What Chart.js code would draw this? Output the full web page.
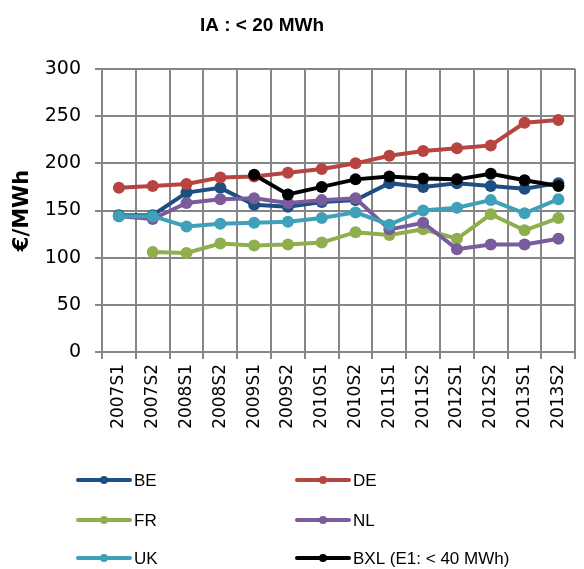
<!DOCTYPE html>
<html>
<head>
<meta charset="utf-8">
<script src="https://cdn.jsdelivr.net/npm/chart.js@4.4.1/dist/chart.umd.min.js"></script>
<style>
  html, body { margin: 0; padding: 0; background: #fff; }
  #wrap { position: relative; width: 584px; height: 569px; }
</style>
</head>
<body>
<div id="wrap"><canvas id="chart" width="584" height="569"></canvas></div>
<script>
// semesters on the category axis
const periods = ['2007S1', '2007S2', '2008S1', '2008S2', '2009S1', '2009S2', '2010S1',
  '2010S2', '2011S1', '2011S2', '2012S1', '2012S2', '2013S1', '2013S2'];

// €/MWh per country
const beValues = [145, 145, 169, 174, 156, 154, 159, 161, 179, 175, 179, 176, 173, 179];
const deValues = [174, 176, 178, 185, 186, 190, 194, 200, 208, 213, 216, 219, 243, 246];
const frValues = [null, 106, 105, 115, 113, 114, 116, 127, 124, 130, 120, 146, 129, 142];
const nlValues = [144, 141, 158, 162, 163, 158, 161, 163, 130, 137, 109, 114, 114, 120];
const ukValues = [144, 144, 133, 136, 137, 138, 142, 148, 135, 150, 153, 161, 147, 162];
const bxlValues = [null, null, null, null, 188, 167, 175, 183, 186, 184, 183, 189, 182, 176];

const yTicks = [0, 50, 100, 150, 200, 250, 300];

const GRID = '#868686';

function series(label, data, color, order) {
  return {
    label, data, order,
    borderColor: color,
    backgroundColor: color,
    pointBackgroundColor: color,
    pointBorderColor: color,
    borderWidth: 4,
    pointRadius: 6,
    pointBorderWidth: 0,
    tension: 0,
    spanGaps: false,
  };
}

/* ── title drawn by hand: Excel put it left of centre ───────── */
const titlePlugin = {
  id: 'xlTitle',
  afterDraw(chart) {
    const ctx = chart.ctx;
    ctx.save();
    ctx.fillStyle = '#000';
    ctx.font = 'bold 19px "Liberation Sans", Arial, sans-serif';
    ctx.textAlign = 'center';
    ctx.textBaseline = 'middle';
    ctx.fillText('IA : < 20 MWh', 262, 26);
    ctx.restore();
  }
};

/* ── legend in two columns, line + marker like Excel ────────── */
const legendPlugin = {
  id: 'xlLegend',
  afterDraw(chart) {
    const ctx = chart.ctx;
    const cols = [78, 297];
    const rows = [480, 520, 558];
    ctx.save();
    ctx.font = '17px "Liberation Sans", Arial, sans-serif';
    ctx.textBaseline = 'middle';
    chart.data.datasets.forEach((ds, i) => {
      const x = cols[i % 2];
      const y = rows[Math.floor(i / 2)];
      ctx.strokeStyle = ds.borderColor;
      ctx.lineWidth = 4;
      ctx.lineCap = 'round';
      ctx.beginPath();
      ctx.moveTo(x, y);
      ctx.lineTo(x + 52, y);
      ctx.stroke();
      ctx.fillStyle = ds.borderColor;
      ctx.beginPath();
      ctx.arc(x + 26, y, 4, 0, Math.PI * 2);
      ctx.fill();
      ctx.fillStyle = '#000';
      ctx.fillText(ds.label, x + 56, y + 1);
    });
    ctx.restore();
  }
};

new Chart(document.getElementById('chart'), {
  type: 'line',
  data: {
    labels: periods,
    datasets: [
      series('BE', beValues, '#1F4E82', 6),
      series('DE', deValues, '#B84441', 5),
      series('FR', frValues, '#8FAF4F', 4),
      series('NL', nlValues, '#7A5C9C', 3),
      series('UK', ukValues, '#3FA0BA', 2),
      series('BXL (E1: < 40 MWh)', bxlValues, '#000000', 1),
    ],
  },
  options: {
    responsive: false,
    animation: false,
    layout: { padding: { top: 69, right: 0, bottom: 0, left: 0 } },
    plugins: {
      legend: { display: false },
      title: { display: false },
      tooltip: { enabled: false },
    },
    scales: {
      x: {
        offset: true,
        grid: { offset: true, color: GRID, lineWidth: 2, tickLength: 7, drawTicks: true },
        border: { color: GRID, width: 2 },
        ticks: {
          color: '#000',
          font: { family: '"DejaVu Sans", sans-serif', size: 17 },
          maxRotation: 90,
          minRotation: 90,
          padding: 5,
          autoSkip: false,
        },
        afterFit(scale) { scale.height = 217; },
      },
      y: {
        min: 0,
        max: 300,
        afterBuildTicks(scale) { scale.ticks = yTicks.map(v => ({ value: v })); },
        grid: { color: GRID, lineWidth: 2, tickLength: 7 },
        border: { color: GRID, width: 2 },
        ticks: {
          color: '#000',
          font: { family: '"DejaVu Sans", sans-serif', size: 19 },
          padding: 14,
        },
        title: {
          display: true,
          text: '€/MWh',
          color: '#000',
          font: { family: '"DejaVu Sans", sans-serif', size: 21, weight: 'bold' },
          padding: { top: 10, bottom: 0 },
        },
        afterFit(scale) { scale.width = 102; },
      },
    },
  },
  plugins: [titlePlugin, legendPlugin],
});
</script>
</body>
</html>
